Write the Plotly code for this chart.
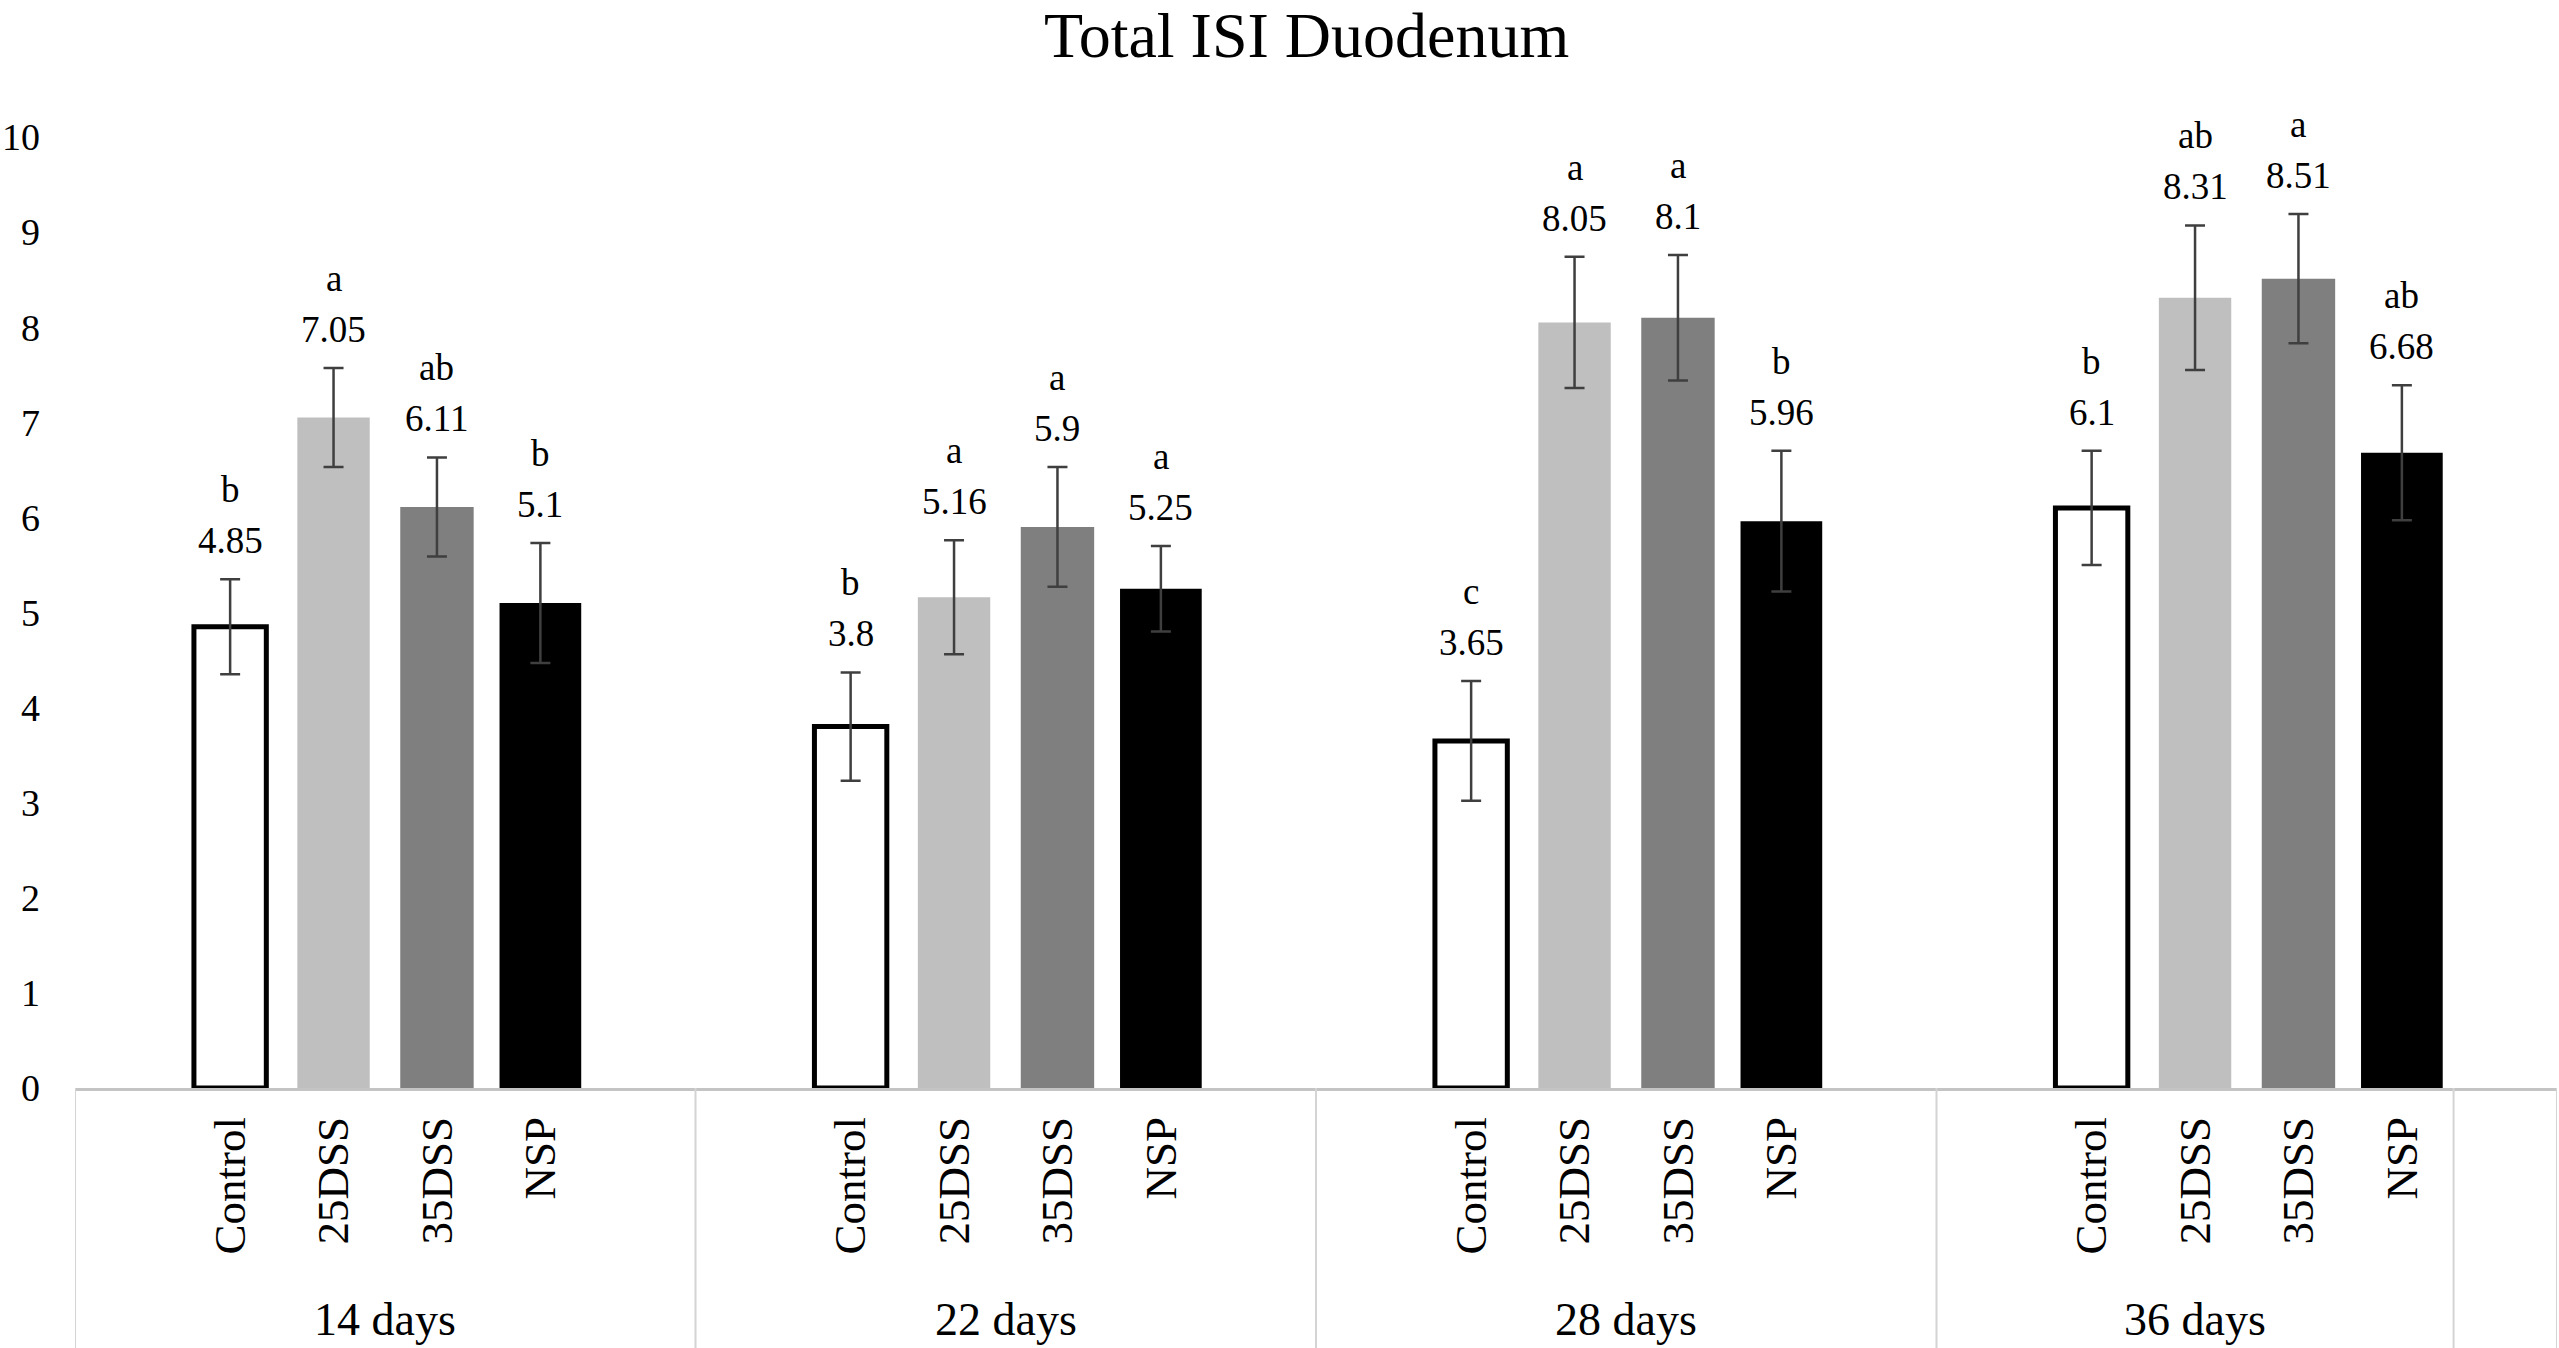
import plotly.graph_objects as go

# values
groups = ["14 days", "22 days", "28 days", "36 days"]
treatments = ["Control", "25DSS", "35DSS", "NSP"]

control = [4.85, 3.8, 3.65, 6.1]
dss25 = [7.05, 5.16, 8.05, 8.31]
dss35 = [6.11, 5.9, 8.1, 8.51]
nsp = [5.1, 5.25, 5.96, 6.68]

control_err = [0.50, 0.57, 0.63, 0.60]
dss25_err = [0.52, 0.60, 0.69, 0.76]
dss35_err = [0.52, 0.63, 0.66, 0.68]
nsp_err = [0.63, 0.45, 0.74, 0.71]

control_letters = ["b", "b", "c", "b"]
dss25_letters = ["a", "a", "a", "ab"]
dss35_letters = ["ab", "a", "a", "a"]
nsp_letters = ["b", "a", "b", "ab"]

y_ticks = list(range(0, 11))

FONT = "Liberation Serif"
W, H = 2559, 1348

# Excel style category axis: every day block has an empty slot before and
# after the four bars; the last block lost its trailing slot and an extra
# empty category sits at the very end.
block_slots = [6, 6, 6, 5]
n_slots = sum(block_slots) + 1
starts = [sum(block_slots[:i]) for i in range(len(block_slots))]

series = [
    (control, control_err, control_letters, "#ffffff", 0.70, 5),
    (dss25, dss25_err, dss25_letters, "#bfbfbf", 0.70, 0),
    (dss35, dss35_err, dss35_letters, "#7f7f7f", 0.71, 0),
    (nsp, nsp_err, nsp_letters, "#000000", 0.79, 0),
]

fig = go.Figure()
tick_x, tick_text = [], []

for i, (vals, errs, letters, fill, bw, lw) in enumerate(series):
    xs = [s + 1.5 + i for s in starts]
    tick_x += xs
    tick_text += [treatments[i]] * len(xs)
    fig.add_trace(go.Bar(
        x=xs, y=vals, width=bw, name=treatments[i],
        marker=dict(color=fill, line=dict(color="#000000", width=lw)),
        error_y=dict(type="data", array=errs, color="#3f3f3f",
                     thickness=2.5, width=10),
        showlegend=False,
    ))
    # two-line data label: significance letter over the mean
    for x, v, e, l in zip(xs, vals, errs, letters):
        fig.add_annotation(x=x, y=v + e, text=f"{v:g}", showarrow=False,
                           yanchor="bottom", yshift=16,
                           font=dict(family=FONT, size=37, color="#000000"))
        fig.add_annotation(x=x, y=v + e, text=l, showarrow=False,
                           yanchor="bottom", yshift=67,
                           font=dict(family=FONT, size=37, color="#000000"))

# group labels and the boxed category area under the axis
for g, s, n in zip(groups, starts, block_slots):
    fig.add_annotation(x=s + n / 2, y=0, xref="x", yref="paper", text=g,
                       showarrow=False, yanchor="middle", yshift=-231,
                       font=dict(family=FONT, size=46, color="#000000"))

for xb in starts + [sum(block_slots), n_slots]:
    fig.add_shape(type="line", xref="x", yref="paper", x0=xb, x1=xb,
                  y0=0, y1=-0.3, line=dict(color="#d4d4d4", width=2))

fig.add_annotation(x=0.496, y=1, xref="paper", yref="paper",
                   text="Total ISI Duodenum", showarrow=False,
                   yanchor="bottom", yshift=64,
                   font=dict(family=FONT, size=64, color="#000000"))

fig.update_layout(
    width=W, height=H, autosize=False,
    margin=dict(l=75, r=2, t=137, b=260),
    paper_bgcolor="white", plot_bgcolor="white",
    barmode="overlay",
    font=dict(family=FONT, color="#000000"),
    xaxis=dict(
        range=[0, n_slots], tickmode="array", tickvals=tick_x,
        ticktext=tick_text, tickangle=-90, ticks="",
        tickfont=dict(family=FONT, size=45, color="#000000"),
        ticklabelstandoff=8,
        showgrid=False, zeroline=False,
        showline=True, linecolor="#c4c4c4", linewidth=3,
    ),
    yaxis=dict(
        range=[0, 10], tickmode="array", tickvals=y_ticks, ticks="",
        tickfont=dict(family=FONT, size=38, color="#000000"),
        ticklabelstandoff=34,
        showgrid=False, zeroline=False, showline=False,
    ),
)

fig.write_html("out.html", config={"displayModeBar": False},
               post_script="document.body.style.margin='0';"
                           "document.body.style.overflow='hidden';")
